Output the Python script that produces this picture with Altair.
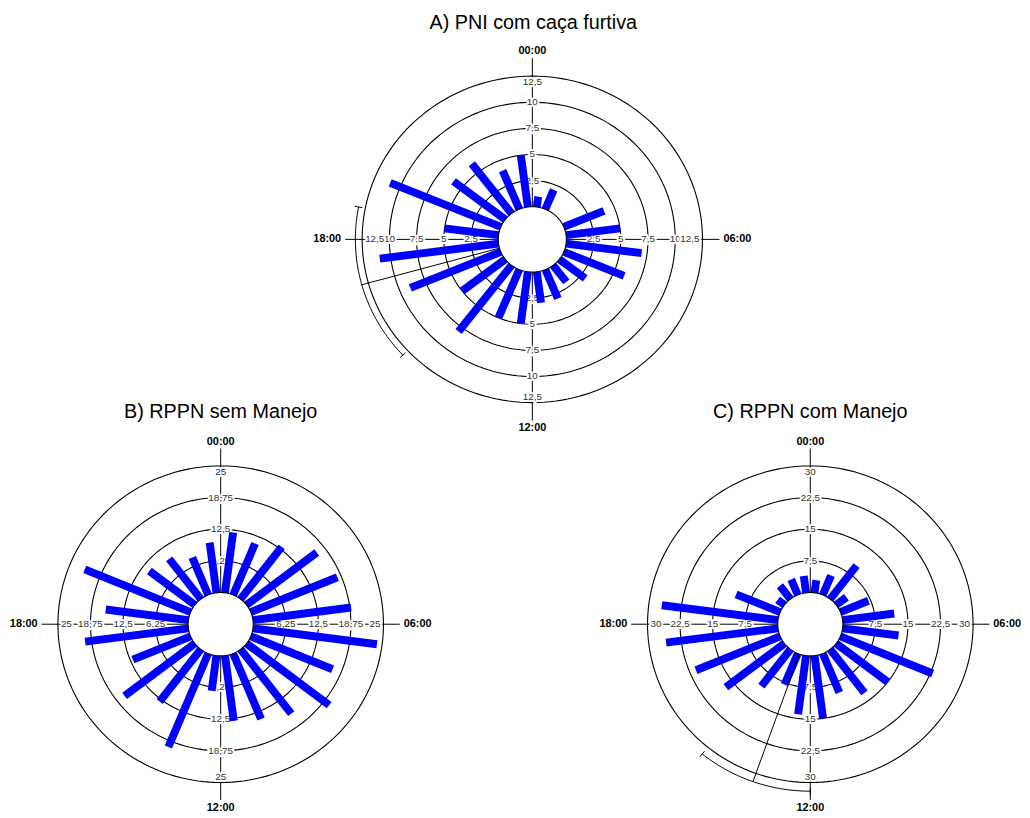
import altair as alt
import pandas as pd

# ---------------- data ----------------
HOURS = list(range(24))  # bar i covers hour i..i+1 (clockwise from 00:00 at top)
A_COUNTS = [1, 2, 0, 0, 4, 5, 7, 6, 3, 2, 3, 3, 5, 5, 8, 5, 9, 11, 5, 11, 6, 6, 4, 5]
B_COUNTS = [12, 11, 13, 17, 18, 19, 24, 17, 20, 16, 14, 13, 7, 20, 13, 17, 12, 20, 16, 22, 11, 10, 8, 10]
C_COUNTS = [3, 5, 10, 3, 7, 12, 13, 23, 15, 13, 10, 15, 14, 8, 11, 17, 21, 26, 27, 11, 2, 4, 4, 4]

A_TICKS = [2.5, 5, 7.5, 10, 12.5]
A_TICK_LABELS = ["2,5", "5", "7,5", "10", "12,5"]
B_TICKS = [6.25, 12.5, 18.75, 25]
B_TICK_LABELS = ["6,25", "12,5", "18,75", "25"]
C_TICKS = [7.5, 15, 22.5, 30]
C_TICK_LABELS = ["7,5", "15", "22,5", "30"]

HOUR_DIRS = [0, 90, 180, 270]
HOUR_LABELS = ["00:00", "06:00", "12:00", "18:00"]

TITLES = ["A) PNI com caça furtiva", "B) RPPN sem Manejo", "C) RPPN com Manejo"]

# mean direction (degrees clockwise from 00:00) and its confidence interval
A_MEAN = 254.5
A_CI = [227, 281]
C_MEAN = 199.5
C_CI = [180, 219]

# ---------------- styling ----------------
INNER = 0.2          # radius of the empty centre, as a fraction of the outer ring
EXT_H = 1.1          # how far the horizontal axis reaches
EXT_V = 1.11         # how far the vertical axis reaches
FONT = "Liberation Sans"
BLUE = "#0000FF"


def rad(field, vmax):
    return f"({INNER} + {1 - INNER} * datum.{field} / {vmax})"


def panel(counts, ticks, tick_labels, title, xdom, ydom, width, height,
          title_offset, title_dx=0, mean=None, ci=None, arc_r=1.05):
    vmax = ticks[-1]
    sx = alt.Scale(domain=xdom, nice=False, zero=False)
    sy = alt.Scale(domain=ydom, nice=False, zero=False)

    def X(f):
        return alt.X(f"{f}:Q", scale=sx, axis=None)

    def Y(f):
        return alt.Y(f"{f}:Q", scale=sy, axis=None)

    layers = []

    # concentric rings
    ring_df = pd.DataFrame([{"t": t, "a": a} for t in ticks for a in range(0, 361, 2)])
    layers.append(
        alt.Chart(ring_df).transform_calculate(
            rr=rad("t", vmax),
            px="datum.rr * sin(datum.a * PI / 180)",
            py="datum.rr * cos(datum.a * PI / 180)",
        ).mark_line(color="black", strokeWidth=1.1).encode(
            x=X("px"), y=Y("py"), detail="t:N", order="a:Q")
    )

    # cross-hair axes (from inner circle outwards)
    dir_df = pd.DataFrame({"d": HOUR_DIRS})
    layers.append(
        alt.Chart(dir_df).transform_calculate(
            ext=f"datum.d % 180 == 0 ? {EXT_V} : {EXT_H}",
            ax0=f"{INNER} * sin(datum.d * PI / 180)",
            ay0=f"{INNER} * cos(datum.d * PI / 180)",
            ax1="datum.ext * sin(datum.d * PI / 180)",
            ay1="datum.ext * cos(datum.d * PI / 180)",
        ).mark_rule(color="black", strokeWidth=1).encode(
            x=X("ax0"), y=Y("ay0"), x2="ax1:Q", y2="ay1:Q")
    )

    # radial tick labels (with white halo that interrupts the axis line)
    lab_df = pd.DataFrame([{"t": t, "lab": l, "d": d}
                           for t, l in zip(ticks, tick_labels) for d in HOUR_DIRS])
    base_lab = alt.Chart(lab_df).transform_calculate(
        rr=rad("t", vmax),
        lx="datum.rr * sin(datum.d * PI / 180)",
        ly="datum.rr * cos(datum.d * PI / 180)",
    )
    outer_t = ticks[-1]
    specs = [
        (f"datum.t < {outer_t}", dict(align="center", baseline="middle")),
        (f"datum.t == {outer_t} && datum.d == 0", dict(align="center", baseline="top", dy=1)),
        (f"datum.t == {outer_t} && datum.d == 180", dict(align="center", baseline="bottom", dy=-1)),
        (f"datum.t == {outer_t} && datum.d == 90", dict(align="right", baseline="middle", dx=-3)),
        (f"datum.t == {outer_t} && datum.d == 270", dict(align="left", baseline="middle", dx=3)),
    ]
    for flt, kw in specs:
        ch = base_lab.transform_filter(flt)
        layers.append(
            ch.mark_text(font=FONT, fontSize=10, color="white", stroke="white",
                         strokeWidth=4, strokeJoin="round", **kw).encode(
                x=X("lx"), y=Y("ly"), text="lab:N")
        )
        layers.append(
            ch.mark_text(font=FONT, fontSize=10, color="#333333", **kw).encode(
                x=X("lx"), y=Y("ly"), text="lab:N")
        )

    # bars
    bar_df = pd.DataFrame({"hour": HOURS, "n": counts})
    layers.append(
        alt.Chart(bar_df).transform_calculate(
            ang="(datum.hour + 0.5) * PI / 12",
            r1=rad("n", vmax),
            bx0=f"{INNER} * sin(datum.ang)",
            by0=f"{INNER} * cos(datum.ang)",
            bx1="datum.r1 * sin(datum.ang)",
            by1="datum.r1 * cos(datum.ang)",
        ).mark_rule(color=BLUE, strokeWidth=8, strokeCap="butt").encode(
            x=X("bx0"), y=Y("by0"), x2="bx1:Q", y2="by1:Q")
    )

    # inner circle
    inner_df = pd.DataFrame({"a": list(range(0, 361, 2))})
    layers.append(
        alt.Chart(inner_df).transform_calculate(
            px=f"{INNER} * sin(datum.a * PI / 180)",
            py=f"{INNER} * cos(datum.a * PI / 180)",
        ).mark_line(color="black", strokeWidth=1.1).encode(x=X("px"), y=Y("py"), order="a:Q")
    )

    # mean vector and confidence arc
    if mean is not None:
        m_df = pd.DataFrame({"m": [mean]})
        layers.append(
            alt.Chart(m_df).transform_calculate(
                mx0=f"{INNER} * sin(datum.m * PI / 180)",
                my0=f"{INNER} * cos(datum.m * PI / 180)",
                mx1=f"{arc_r} * sin(datum.m * PI / 180)",
                my1=f"{arc_r} * cos(datum.m * PI / 180)",
            ).mark_rule(color="black", strokeWidth=1).encode(
                x=X("mx0"), y=Y("my0"), x2="mx1:Q", y2="my1:Q")
        )
        arc_df = pd.DataFrame({"a": list(range(ci[0], ci[1] + 1))})
        layers.append(
            alt.Chart(arc_df).transform_calculate(
                px=f"{arc_r} * sin(datum.a * PI / 180)",
                py=f"{arc_r} * cos(datum.a * PI / 180)",
            ).mark_line(color="black", strokeWidth=1).encode(x=X("px"), y=Y("py"), order="a:Q")
        )
        end_df = pd.DataFrame({"a": ci})
        layers.append(
            alt.Chart(end_df).transform_calculate(
                ex0=f"{arc_r - 0.022} * sin(datum.a * PI / 180)",
                ey0=f"{arc_r - 0.022} * cos(datum.a * PI / 180)",
                ex1=f"{arc_r + 0.022} * sin(datum.a * PI / 180)",
                ey1=f"{arc_r + 0.022} * cos(datum.a * PI / 180)",
            ).mark_rule(color="black", strokeWidth=1).encode(
                x=X("ex0"), y=Y("ey0"), x2="ex1:Q", y2="ey1:Q")
        )

    # hour labels
    hl_df = pd.DataFrame({"d": HOUR_DIRS, "lab": HOUR_LABELS})
    base_hl = alt.Chart(hl_df).transform_calculate(
        ext=f"datum.d % 180 == 0 ? {EXT_V} : {EXT_H}",
        hx="datum.ext * sin(datum.d * PI / 180)",
        hy="datum.ext * cos(datum.d * PI / 180)",
    )
    hl_specs = [
        (0, dict(align="center", baseline="bottom", dy=-2)),
        (90, dict(align="left", baseline="middle", dx=4)),
        (180, dict(align="center", baseline="top", dy=2)),
        (270, dict(align="right", baseline="middle", dx=-4)),
    ]
    for d, kw in hl_specs:
        layers.append(
            base_hl.transform_filter(f"datum.d == {d}").mark_text(
                font=FONT, fontSize=11, fontWeight="bold", color="black", **kw).encode(
                x=X("hx"), y=Y("hy"), text="lab:N")
        )

    return alt.layer(*layers).properties(
        width=width, height=height,
        title=alt.TitleParams(text=title, font=FONT, fontSize=20, fontWeight="normal",
                              color="black", anchor="middle", baseline="top",
                              frame="group", offset=title_offset, dx=title_dx),
    )


panel_a = panel(A_COUNTS, A_TICKS, A_TICK_LABELS, TITLES[0],
                xdom=[-2.8837, 2.686], ydom=[-1.1, 1.1], width=958, height=363,
                title_offset=13, title_dx=18, mean=A_MEAN, ci=A_CI, arc_r=1.04)
panel_b = panel(B_COUNTS, B_TICKS, B_TICK_LABELS, TITLES[1],
                xdom=[-1.1, 1.1], ydom=[-1.1, 1.1], width=362, height=352,
                title_offset=14)
panel_c = panel(C_COUNTS, C_TICKS, C_TICK_LABELS, TITLES[2],
                xdom=[-1.1, 1.1], ydom=[-1.1, 1.1], width=362, height=352,
                title_offset=14, mean=C_MEAN, ci=C_CI, arc_r=1.055)

bottom = alt.hconcat(panel_b, panel_c, spacing=234, bounds="flush").resolve_scale(
    x="independent", y="independent")
chart = alt.vconcat(panel_a, bottom, spacing=31.5, bounds="flush").resolve_scale(
    x="independent", y="independent").properties(
    padding={"left": 1, "top": 0, "right": 0, "bottom": 0}).configure_view(stroke=None)

chart.save("out.html", embed_options={"renderer": "svg", "actions": False})
